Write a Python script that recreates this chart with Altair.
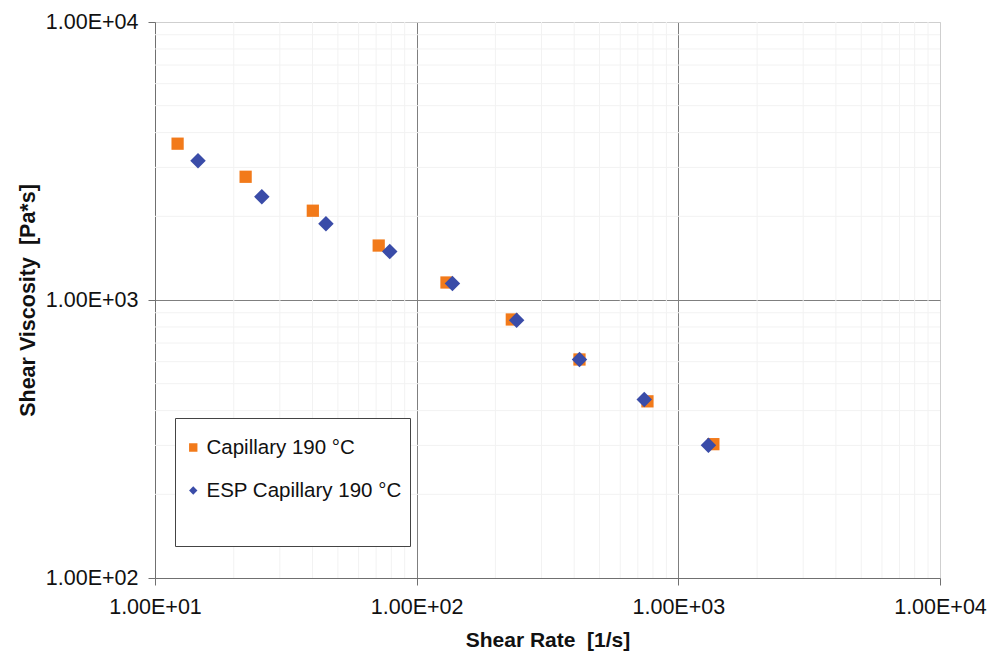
import altair as alt
import pandas as pd

series_names = ["Capillary 190 °C", "ESP Capillary 190 °C"]

cap_rate = [12.2, 22.2, 40.1, 71.6, 130, 231, 419, 762, 1361]
cap_visc = [3650, 2775, 2095, 1570, 1156, 851, 611, 432, 303]

esp_rate = [14.6, 25.6, 45.0, 78.9, 137, 241, 419, 741, 1303]
esp_visc = [3170, 2354, 1882, 1493, 1146, 846, 611, 439, 300]

x_major = [10, 100, 1000, 10000]
y_major = [100, 1000, 10000]
x_minor = [20, 30, 40, 50, 60, 70, 80, 90,
           200, 300, 400, 500, 600, 700, 800, 900,
           2000, 3000, 4000, 5000, 6000, 7000, 8000, 9000]
y_minor = [200, 300, 400, 500, 600, 700, 800, 900,
           2000, 3000, 4000, 5000, 6000, 7000, 8000, 9000]

FONT = "Liberation Sans, Arial, sans-serif"
NB = "\u00a0"

df = pd.concat([
    pd.DataFrame({"rate": cap_rate, "visc": cap_visc, "series": series_names[0]}),
    pd.DataFrame({"rate": esp_rate, "visc": esp_visc, "series": series_names[1]}),
])

xscale = alt.Scale(type="log", domain=[10, 10000], nice=False)
yscale = alt.Scale(type="log", domain=[100, 10000], nice=False)

label_expr = "'1.00E+0' + round(log(datum.value)/LN10)"

x_axis = alt.Axis(
    values=x_major, labelExpr=label_expr, title="Shear Rate " + NB + "[1/s]",
    grid=True,
    gridColor={"condition": {"test": "datum.value == 10000 || datum.value == 10", "value": "#cfcfcf"}, "value": "#7f7f7f"},
    tickSize=7, labelPadding=11, titlePadding=12,
    labelFontSize=21.5, titleFontSize=21, labelFont=FONT, titleFont=FONT,
    titleFontWeight="bold", labelColor="#111", titleColor="#111",
    domainColor="#707070", tickColor="#707070", labelFlush=False,
)
y_axis = alt.Axis(
    values=y_major, labelExpr=label_expr, title="Shear Viscosity " + NB + "[Pa*s]",
    grid=True,
    gridColor={"condition": {"test": "datum.value == 10000 || datum.value == 100", "value": "#cfcfcf"}, "value": "#7f7f7f"},
    tickSize=7, labelPadding=10, titlePadding=6,
    labelFontSize=21.5, titleFontSize=21.5, labelFont=FONT, titleFont=FONT,
    titleFontWeight="bold", labelColor="#111", titleColor="#111",
    domainColor="#707070", tickColor="#707070", labelFlush=False,
)

minor_x = alt.Chart(pd.DataFrame({"rate": x_minor})).mark_rule(
    color="#f2f2f2", strokeWidth=1
).encode(x=alt.X("rate:Q", scale=xscale, axis=x_axis))

minor_y = alt.Chart(pd.DataFrame({"visc": y_minor})).mark_rule(
    color="#f2f2f2", strokeWidth=1
).encode(y=alt.Y("visc:Q", scale=yscale, axis=y_axis))

color_scale = alt.Scale(domain=series_names, range=["#F27A1A", "#3A4CA8"])
shape_scale = alt.Scale(domain=series_names, range=["square", "diamond"])

legend = alt.Legend(
    title=" ", titleOrient="bottom", titleFontSize=8, titlePadding=18,
    orient="none", legendX=20, legendY=396,
    labelFont=FONT, labelFontSize=20.5, labelColor="#111", labelLimit=400,
    symbolSize=70, labelOffset=3, clipHeight=43, rowPadding=0,
    padding=8, strokeColor="#444", fillColor="white",
)

base = alt.Chart(df).encode(
    x=alt.X("rate:Q", scale=xscale, axis=x_axis),
    y=alt.Y("visc:Q", scale=yscale, axis=y_axis),
    color=alt.Color("series:N", scale=color_scale, legend=legend),
    shape=alt.Shape("series:N", scale=shape_scale, legend=legend),
)

cap_pts = base.transform_filter(
    alt.datum.series == series_names[0]
).mark_point(filled=True, size=150, opacity=1)

esp_pts = base.transform_filter(
    alt.datum.series == series_names[1]
).mark_point(filled=True, size=240, opacity=1)

chart = alt.layer(minor_x, minor_y, cap_pts, esp_pts).properties(
    width=785, height=556,
    padding={"left": 155, "top": 22, "right": 47, "bottom": 78},
    autosize=alt.AutoSizeParams(type="none"),
).configure_view(
    stroke="#cfcfcf", strokeWidth=1
).configure(background="white")

chart.save("out.html", embed_options={"renderer": "svg", "actions": False})
